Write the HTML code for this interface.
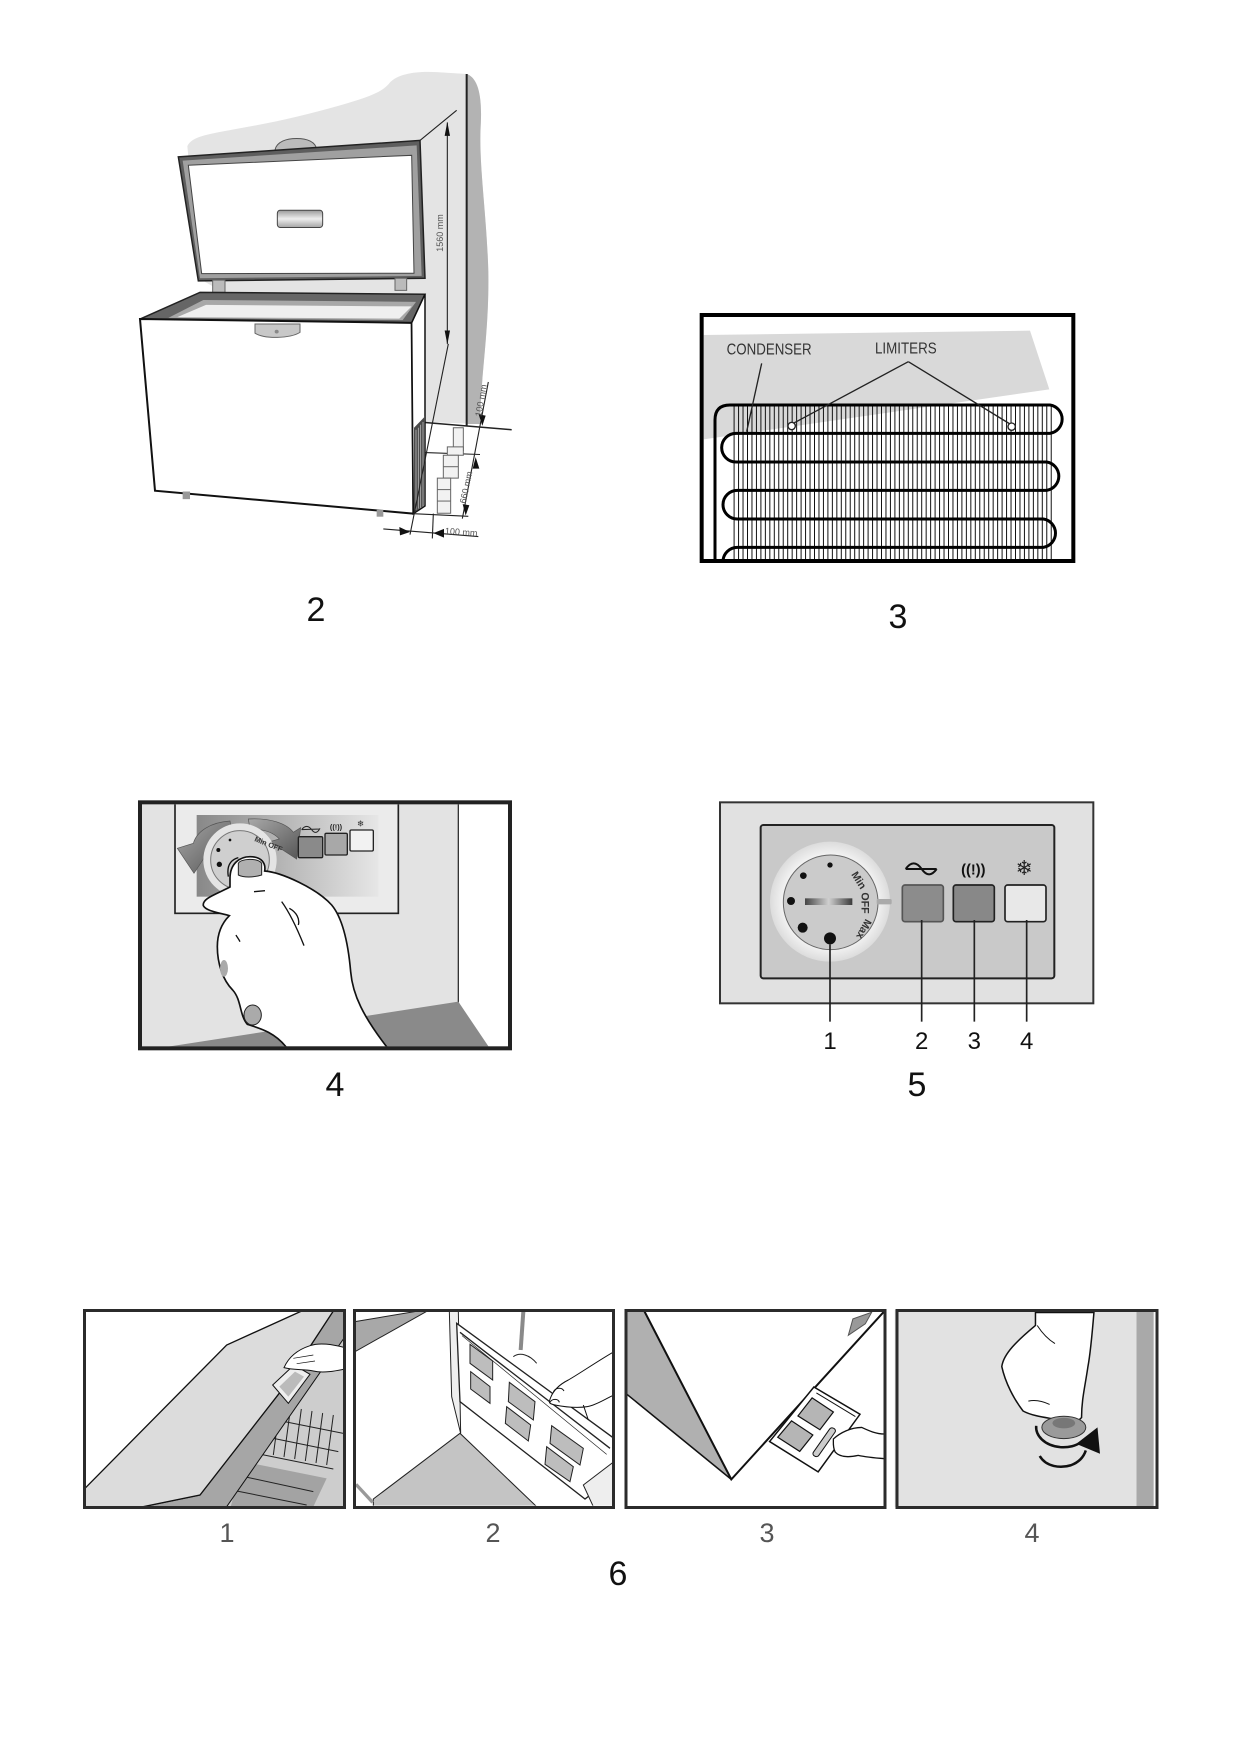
<!DOCTYPE html>
<html><head><meta charset="utf-8">
<style>
html,body{margin:0;padding:0;background:#fff;}
svg{display:block;}
text{font-family:"Liberation Sans",Arial,sans-serif;}
.ns *{vector-effect:non-scaling-stroke;}
</style></head><body>
<svg width="1240" height="1754" viewBox="0 0 1240 1754" xmlns="http://www.w3.org/2000/svg">
<defs>
  <linearGradient id="hgrad" x1="0" y1="0" x2="0" y2="1">
    <stop offset="0" stop-color="#9a9a9a"/><stop offset="0.5" stop-color="#eeeeee"/><stop offset="1" stop-color="#a5a5a5"/>
  </linearGradient>
  <linearGradient id="g4" x1="0" y1="0" x2="1" y2="0">
    <stop offset="0" stop-color="#888"/><stop offset="0.55" stop-color="#bdbdbd"/><stop offset="1" stop-color="#e6e6e6"/>
  </linearGradient>
  <linearGradient id="garr" x1="0" y1="0" x2="1" y2="1">
    <stop offset="0" stop-color="#a8a8a8"/><stop offset="1" stop-color="#555"/>
  </linearGradient>
  <linearGradient id="gbar" x1="0" y1="0" x2="1" y2="0">
    <stop offset="0" stop-color="#444"/><stop offset="0.5" stop-color="#d0d0d0"/><stop offset="1" stop-color="#3a3a3a"/>
  </linearGradient>
  <radialGradient id="ring" cx="0.5" cy="0.5" r="0.5">
    <stop offset="0.7" stop-color="#fbfbfb"/><stop offset="1" stop-color="#dcdcdc"/>
  </radialGradient>
  <pattern id="wires" patternUnits="userSpaceOnUse" width="13.4" height="1000">
    <rect x="0" y="0" width="3" height="1000" fill="#111"/>
  </pattern>
  <clipPath id="c3"><rect x="71" y="51" width="1103" height="726"/></clipPath>
  <clipPath id="c4"><rect x="36" y="28" width="1098" height="726"/></clipPath>
  <clipPath id="c61"><rect x="15" y="18" width="777" height="587"/></clipPath>
  <clipPath id="c62"><rect x="15" y="18" width="772" height="584"/></clipPath>
</defs>

<!-- ================= FIG 2 : freezer ================= -->
<g class="ns" transform="translate(100,50) scale(0.33333,0.3816)">
  <path d="M262,252 C275,225 330,220 420,205 C520,190 620,170 720,145 C800,125 850,110 870,85 C895,62 950,55 1010,58 L1100,63 C1130,72 1148,110 1142,200 C1136,300 1160,430 1165,580 C1168,740 1142,850 1140,980 L975,975 L975,640 L380,640 L300,600 Z" fill="#e4e4e4"/>
  <path d="M1100,63 C1130,72 1148,110 1142,200 C1136,300 1160,430 1165,580 C1168,740 1142,850 1140,980 L1100,980 Z" fill="#b3b3b3"/>
  <line x1="1100" y1="63" x2="1100" y2="985" stroke="#222" stroke-width="2"/>
  <line x1="975" y1="976" x2="1235" y2="995" stroke="#222" stroke-width="1.5"/>

  <!-- lid -->
  <path d="M525,262 C530,240 560,232 590,232 C620,232 648,240 650,262 Z" fill="#bbb" stroke="#555" stroke-width="1"/>
  <polygon points="235,280 960,237 975,598 295,605" fill="#5e5e5e" stroke="#222" stroke-width="1.5"/>
  <polygon points="248,290 950,250 965,592 300,598" fill="#a0a0a0"/>
  <polygon points="265,302 935,276 942,585 305,586" fill="#fff" stroke="#444" stroke-width="1"/>
  <rect x="532" y="420" width="136" height="45" rx="8" fill="url(#hgrad)" stroke="#444" stroke-width="1"/>
  <rect x="338" y="603" width="37" height="32" fill="#bbb" stroke="#666" stroke-width="1"/>
  <rect x="885" y="598" width="35" height="32" fill="#bbb" stroke="#666" stroke-width="1"/>

  <!-- body -->
  <polygon points="120,705 300,635 975,640 935,715" fill="#666" stroke="#222" stroke-width="1.5"/>
  <polygon points="205,702 310,655 948,660 908,708" fill="#a8a8a8"/>
  <polygon points="232,700 318,668 935,672 898,704" fill="#efefef"/>
  <polygon points="120,705 935,715 940,1215 165,1155" fill="#fff" stroke="#111" stroke-width="2"/>
  <polygon points="935,715 975,640 975,1195 940,1215" fill="#fff" stroke="#111" stroke-width="1.5"/>
  <polygon points="942,990 975,960 975,1192 942,1212" fill="#4a4a4a"/>
  <path d="M948,995 L948,1205 M955,990 L955,1202 M962,982 L962,1200 M969,975 L969,1196" stroke="#bbb" stroke-width="0.8"/>
  <path d="M465,718 L600,718 L600,740 C570,756 495,758 465,742 Z" fill="#c8c8c8" stroke="#666" stroke-width="1"/>
  <ellipse cx="530" cy="738" rx="6" ry="5" fill="#888"/>
  <rect x="248" y="1157" width="22" height="20" fill="#999"/>
  <rect x="830" y="1205" width="20" height="18" fill="#999"/>

  <!-- dimensions -->
  <g stroke="#222" stroke-width="1.1" fill="none">
    <line x1="960" y1="237" x2="1070" y2="158"/>
    <line x1="1042" y1="190" x2="1042" y2="770"/>
    <line x1="1045" y1="770" x2="930" y2="1270"/>
    <line x1="1165" y1="870" x2="1087" y2="1228"/>
    <line x1="975" y1="1055" x2="1140" y2="1060"/>
    <line x1="940" y1="1215" x2="1105" y2="1222"/>
    <line x1="850" y1="1255" x2="1135" y2="1275"/>
    <line x1="1000" y1="1215" x2="997" y2="1280"/>
  </g>
  <g fill="#111">
    <polygon points="1042,188 1034,225 1050,225"/>
    <polygon points="1042,772 1034,735 1050,735"/>
    <polygon points="1147,985 1136,955 1157,958"/>
    <polygon points="1127,1067 1118,1097 1138,1097"/>
    <polygon points="1097,1220 1088,1190 1108,1193"/>
    <polygon points="930,1263 898,1250 900,1272"/>
    <polygon points="1000,1266 1032,1255 1032,1278"/>
  </g>
  <g fill="#f2f2f2" stroke="#666" stroke-width="1">
    <rect x="1060" y="990" width="30" height="60"/>
    <rect x="1042" y="1040" width="48" height="22"/>
    <rect x="1030" y="1062" width="45" height="60"/>
    <rect x="1012" y="1122" width="40" height="92"/>
    <line x1="1012" y1="1152" x2="1052" y2="1152"/>
    <line x1="1012" y1="1182" x2="1052" y2="1182"/>
    <line x1="1030" y1="1092" x2="1075" y2="1092"/>
  </g>
</g>
<text transform="translate(443,233) rotate(-90)" text-anchor="middle" font-size="9" fill="#555">1560 mm</text>
<text transform="translate(484,401) rotate(-80)" text-anchor="middle" font-size="9" fill="#555">100 mm</text>
<text transform="translate(469,488) rotate(-78)" text-anchor="middle" font-size="9" fill="#555">660 mm</text>
<text transform="translate(461,535) rotate(4)" text-anchor="middle" font-size="9" fill="#555">100 mm</text>
<text x="316" y="621" text-anchor="middle" font-size="34" fill="#111">2</text>

<!-- ================= FIG 3 : condenser ================= -->
<g transform="translate(680,300) scale(0.33333)">
  <rect x="65" y="45" width="1115" height="738" fill="#fff"/>
  <g clip-path="url(#c3)">
    <polygon points="71,105 1050,92 1108,268 71,418" fill="#d9d9d9"/>
    <rect x="158" y="312" width="958" height="475" fill="url(#wires)"/>
    <path d="M105,790 L105,360 Q105,315 150,315 L1110,315 A43,43 0 0 1 1110,400 L168,400 A43,43 0 0 0 168,486 L1100,486 A43,43 0 0 1 1100,571 L172,571 A43,43 0 0 0 172,657 L1090,657 A43,43 0 0 1 1090,742 L172,742 A43,43 0 0 0 129,785" fill="none" stroke="#000" stroke-width="9"/>
    <g stroke="#222" stroke-width="4" fill="none">
      <line x1="245" y1="190" x2="200" y2="395"/>
      <line x1="685" y1="185" x2="340" y2="370"/>
      <line x1="685" y1="185" x2="990" y2="372"/>
    </g>
    <circle cx="335" cy="378" r="11" fill="#fff" stroke="#222" stroke-width="4"/>
    <circle cx="995" cy="380" r="11" fill="#fff" stroke="#222" stroke-width="4"/>
    <text x="140" y="163" font-size="46" fill="#333" textLength="255" lengthAdjust="spacingAndGlyphs">CONDENSER</text>
    <text x="585" y="160" font-size="46" fill="#333" textLength="185" lengthAdjust="spacingAndGlyphs">LIMITERS</text>
  </g>
  <rect x="65" y="45" width="1115" height="738" fill="none" stroke="#000" stroke-width="12"/>
</g>
<text x="898" y="628" text-anchor="middle" font-size="34" fill="#111">3</text>

<!-- ================= FIG 4 : hand on dial ================= -->
<g transform="translate(130,795) scale(0.33333)">
  <rect x="30" y="22" width="1110" height="738" fill="#e3e3e3"/>
  <g clip-path="url(#c4)">
    <rect x="985" y="22" width="155" height="740" fill="#fff"/>
    <line x1="985" y1="22" x2="985" y2="622" stroke="#333" stroke-width="4"/>
    <polygon points="95,758 985,620 1078,758" fill="#8a8a8a"/>
    <rect x="135" y="20" width="670" height="335" fill="#ebebeb" stroke="#222" stroke-width="5"/>
    <rect x="200" y="60" width="545" height="245" fill="url(#g4)"/>
    <path d="M300,78 C240,82 200,110 190,145 L142,160 L192,235 L248,150 L232,150 C245,125 270,110 305,108 Z" fill="url(#garr)" stroke="#555" stroke-width="2"/>
    <path d="M355,72 C420,68 470,85 490,112 L512,98 L500,192 L420,140 L448,132 C430,112 400,102 360,102 Z" fill="url(#garr)" stroke="#555" stroke-width="2"/>
    <circle cx="330" cy="195" r="110" fill="#e4e4e4"/>
    <circle cx="330" cy="195" r="88" fill="#cfcfcf" stroke="#777" stroke-width="3"/>
    <circle cx="300" cy="135" r="4" fill="#111"/>
    <circle cx="265" cy="165" r="6" fill="#111"/>
    <circle cx="268" cy="208" r="8" fill="#111"/>
    <text transform="translate(372,138) rotate(22)" font-size="22" font-weight="bold" fill="#333">Min OFF</text>
    <rect x="505" y="125" width="73" height="63" rx="4" fill="#8a8a8a" stroke="#222" stroke-width="4"/>
    <rect x="585" y="115" width="67" height="65" rx="4" fill="#a8a8a8" stroke="#222" stroke-width="4"/>
    <rect x="660" y="105" width="70" height="63" rx="4" fill="#f2f2f2" stroke="#222" stroke-width="4"/>
    <path d="M515,104 Q530,84 545,104 Q558,122 570,100 M515,104 L570,102" fill="none" stroke="#222" stroke-width="3"/>
    <text x="618" y="104" text-anchor="middle" font-size="22" font-weight="bold" fill="#222">((!))</text>
    <text x="692" y="94" text-anchor="middle" font-size="26" fill="#333">❄</text>
    <!-- hand -->
    <path d="M300,250 C300,205 330,185 360,185 C395,185 408,205 404,228 C455,232 560,280 605,330 C640,372 655,450 662,530 C668,600 700,665 772,758 L470,758 C435,712 390,700 352,688 C328,660 335,615 308,585 C278,555 262,505 262,455 C262,415 275,385 298,362 C262,352 228,348 220,332 C216,310 258,298 300,276 Z" fill="#fff" stroke="#111" stroke-width="5"/>
    <path d="M325,205 C332,190 385,188 395,205 L395,240 C370,248 340,248 325,240 Z" fill="#b0b0b0" stroke="#222" stroke-width="3"/>
    <ellipse cx="368" cy="660" rx="26" ry="30" fill="#aaa" stroke="#222" stroke-width="3"/>
    <ellipse cx="282" cy="520" rx="12" ry="25" fill="#aaa"/>
    <path d="M372,290 L405,287 M455,320 C478,352 498,392 522,452 M478,340 C500,352 510,372 505,390 M330,440 C325,430 320,425 318,420 M295,245 C290,215 300,195 325,188" fill="none" stroke="#111" stroke-width="4"/>
  </g>
  <rect x="30" y="22" width="1110" height="738" fill="none" stroke="#222" stroke-width="12"/>
</g>
<text x="335" y="1096" text-anchor="middle" font-size="34" fill="#111">4</text>

<!-- ================= FIG 5 : control panel ================= -->
<g transform="translate(715,795) scale(0.33333)">
  <rect x="15" y="22" width="1120" height="603" fill="#e1e1e1" stroke="#333" stroke-width="6"/>
  <rect x="137" y="90" width="881" height="460" rx="8" fill="#c9c9c9" stroke="#222" stroke-width="6"/>
  <circle cx="345" cy="320" r="180" fill="url(#ring)"/>
  <circle cx="347" cy="322" r="142" fill="#cbcbcb" stroke="#666" stroke-width="3"/>
  <rect x="485" y="312" width="45" height="16" rx="4" fill="#aaa"/>
  <circle cx="345" cy="210" r="8" fill="#111"/>
  <circle cx="265" cy="242" r="10" fill="#111"/>
  <circle cx="228" cy="318" r="12" fill="#111"/>
  <circle cx="263" cy="398" r="15" fill="#111"/>
  <circle cx="345" cy="430" r="18" fill="#111"/>
  <rect x="270" y="310" width="142" height="20" fill="url(#gbar)"/>
  <text transform="translate(408,238) rotate(58)" font-size="32" font-weight="bold" fill="#333">Min</text>
  <text transform="translate(440,292) rotate(90)" font-size="32" font-weight="bold" fill="#333">OFF</text>
  <text transform="translate(452,370) rotate(118)" font-size="32" font-weight="bold" fill="#333">Max</text>
  <rect x="562" y="270" width="123" height="110" rx="8" fill="#8c8c8c" stroke="#555" stroke-width="5"/>
  <rect x="715" y="270" width="123" height="110" rx="8" fill="#888" stroke="#222" stroke-width="5"/>
  <rect x="870" y="270" width="123" height="110" rx="8" fill="#e8e8e8" stroke="#222" stroke-width="5"/>
  <path d="M572,222 Q596,188 620,222 Q642,254 665,222 M572,222 L665,222" fill="none" stroke="#111" stroke-width="6"/>
  <text x="775" y="238" text-anchor="middle" font-size="44" font-weight="bold" fill="#111">((!))</text>
  <text x="928" y="240" text-anchor="middle" font-size="62" fill="#222">❄</text>
  <g stroke="#222" stroke-width="5">
    <line x1="345" y1="448" x2="345" y2="680"/>
    <line x1="620" y1="375" x2="620" y2="680"/>
    <line x1="778" y1="375" x2="778" y2="680"/>
    <line x1="935" y1="375" x2="935" y2="680"/>
  </g>
  <g font-size="72" text-anchor="middle" fill="#111">
    <text x="345" y="762">1</text>
    <text x="620" y="762">2</text>
    <text x="778" y="762">3</text>
    <text x="935" y="762">4</text>
  </g>
</g>
<text x="917" y="1096" text-anchor="middle" font-size="34" fill="#111">5</text>

<!-- ================= FIG 6 ================= -->
<!-- 6-1 -->
<g transform="translate(80,1305) scale(0.33333)">
  <rect x="12" y="15" width="783" height="593" fill="#fff"/>
  <g clip-path="url(#c61)">
    <polygon points="440,605 795,95 795,605" fill="#cdcdcd"/>
    <polygon points="490,470 740,520 700,605 452,605" fill="#a3a3a3"/>
    <g stroke="#222" stroke-width="3" fill="none">
      <line x1="540" y1="392" x2="775" y2="440"/>
      <line x1="528" y1="445" x2="760" y2="492"/>
      <line x1="565" y1="340" x2="790" y2="385"/>
      <line x1="600" y1="300" x2="580" y2="450"/>
      <line x1="632" y1="306" x2="612" y2="456"/>
      <line x1="664" y1="312" x2="644" y2="462"/>
      <line x1="696" y1="318" x2="676" y2="468"/>
      <line x1="728" y1="324" x2="708" y2="474"/>
      <line x1="760" y1="330" x2="740" y2="480"/>
      <line x1="470" y1="510" x2="700" y2="560"/>
      <line x1="455" y1="555" x2="680" y2="600"/>
    </g>
    <polygon points="600,262 760,18 795,18 795,95 440,605 190,605 360,570" fill="#a6a6a6" stroke="#111" stroke-width="3"/>
    <polygon points="15,550 440,120 665,18 760,18 600,262 360,570 190,605 15,605" fill="#dcdcdc" stroke="#111" stroke-width="4"/>
    <polygon points="578,240 642,180 690,208 625,295" fill="#eee" stroke="#111" stroke-width="3"/>
    <polygon points="598,245 645,200 672,215 625,275" fill="#bbb"/>
    <path d="M612,188 C625,158 650,135 690,122 C720,112 755,118 795,128 L795,192 C765,198 730,205 700,198 C670,192 640,196 612,188 Z" fill="#fff" stroke="#111" stroke-width="3"/>
    <path d="M640,160 L700,150 M650,176 L705,168" stroke="#111" stroke-width="2" fill="none"/>
  </g>
</g>
<!-- 6-2 -->
<g transform="translate(350,1305) scale(0.33333)">
  <rect x="12" y="15" width="778" height="590" fill="#fff"/>
  <g clip-path="url(#c62)">
    <polygon points="15,50 205,18 232,18 15,140" fill="#a8a8a8" stroke="#222" stroke-width="3"/>
    <polygon points="298,18 325,18 332,385 305,275" fill="#eee" stroke="#222" stroke-width="3"/>
    <polygon points="70,605 70,582 330,385 560,605" fill="#c4c4c4" stroke="#222" stroke-width="3"/>
    <line x1="18" y1="538" x2="68" y2="592" stroke="#999" stroke-width="10"/>
    <polygon points="320,55 792,400 792,515 705,582 330,290" fill="#fff" stroke="#222" stroke-width="4"/>
    <line x1="330" y1="82" x2="780" y2="430" stroke="#222" stroke-width="4"/>
    <line x1="336" y1="92" x2="770" y2="448" stroke="#222" stroke-width="2"/>
    <g fill="#bdbdbd" stroke="#222" stroke-width="3">
      <polygon points="360,118 428,168 428,225 360,175"/>
      <polygon points="362,200 420,245 420,295 362,252"/>
      <polygon points="478,232 555,290 550,345 475,290"/>
      <polygon points="470,305 542,360 535,408 466,355"/>
      <polygon points="605,362 700,430 690,480 600,415"/>
      <polygon points="590,425 670,485 660,530 585,478"/>
    </g>
    <line x1="520" y1="20" x2="512" y2="135" stroke="#8a8a8a" stroke-width="12"/>
    <path d="M490,155 C510,140 540,150 560,175" fill="none" stroke="#222" stroke-width="3"/>
    <polygon points="700,540 792,470 792,605 730,605" fill="#eee" stroke="#222" stroke-width="3"/>
    <path d="M598,290 C605,260 625,240 655,225 C690,205 740,170 792,140 L792,270 C765,282 740,300 712,305 C680,310 640,305 615,300 C605,298 598,296 598,290 Z" fill="#fff" stroke="#111" stroke-width="3"/>
    <path d="M610,262 C615,248 635,245 642,258 M600,292 C606,280 625,280 628,292 M700,300 L715,345" fill="none" stroke="#111" stroke-width="3"/>
  </g>
</g>
<!-- 6-3 and 6-4 -->
<g class="ns" transform="translate(620.7,1300.8) scale(0.3545,0.3289)">
  <rect x="15" y="28" width="732" height="599" fill="#fff"/>
  <polygon points="15,28 65,28 312,543 15,282" fill="#b0b0b0"/>
  <polyline points="65,28 312,543 745,30" fill="none" stroke="#111" stroke-width="2"/>
  <line x1="15" y1="282" x2="312" y2="543" stroke="#111" stroke-width="1.5"/>
  <polygon points="642,105 655,55 708,35 690,70" fill="#999" stroke="#555" stroke-width="1"/>
  <polygon points="545,262 675,345 557,520 420,428" fill="#fff" stroke="#111" stroke-width="1.5"/>
  <line x1="552" y1="280" x2="662" y2="352" stroke="#111" stroke-width="1"/>
  <polygon points="540,295 600,338 562,392 500,350" fill="#b5b5b5" stroke="#111" stroke-width="1.2"/>
  <polygon points="482,365 542,408 505,458 443,415" fill="#b5b5b5" stroke="#111" stroke-width="1.2"/>
  <rect x="565" y="380" width="18" height="100" rx="8" transform="rotate(33 574 430)" fill="#ccc" stroke="#111" stroke-width="1"/>
  <path d="M600,420 C620,400 650,385 680,385 C700,395 720,405 745,405 L745,480 C720,478 690,475 670,470 C650,475 620,478 605,460 C598,445 600,430 600,420 Z" fill="#fff" stroke="#111" stroke-width="1.3"/>

  <rect x="773" y="28" width="732" height="599" fill="#e2e2e2"/>
  <rect x="1455" y="28" width="48" height="599" fill="#a9a9a9"/>
  <path d="M1170,35 L1335,35 C1330,100 1325,160 1318,200 C1310,260 1300,300 1300,355 C1280,380 1240,375 1225,360 C1200,355 1160,350 1135,335 C1110,300 1085,250 1075,200 C1080,160 1120,120 1170,75 Z" fill="#fff" stroke="#111" stroke-width="1.5"/>
  <line x1="1170" y1="34" x2="1335" y2="34" stroke="#111" stroke-width="2.5"/>
  <path d="M1175,75 C1190,100 1210,120 1225,130 M1150,305 C1170,300 1190,305 1210,315" fill="none" stroke="#111" stroke-width="1"/>
  <ellipse cx="1250" cy="385" rx="62" ry="34" fill="#9a9a9a" stroke="#333" stroke-width="1"/>
  <ellipse cx="1250" cy="372" rx="32" ry="16" fill="#777"/>
  <path d="M1182,472 C1200,505 1240,510 1270,500 C1290,492 1305,478 1312,455" fill="none" stroke="#111" stroke-width="2.5"/>
  <path d="M1172,380 C1170,410 1195,440 1240,445 C1265,447 1285,440 1295,432" fill="none" stroke="#111" stroke-width="2.5"/>
  <polygon points="1285,435 1345,385 1352,465" fill="#111"/>
</g>

<!-- panel-6 frames -->
<g fill="none" stroke="#2b2b2b" stroke-width="3">
  <rect x="84.5" y="1310.5" width="260" height="197"/>
  <rect x="354.5" y="1310.5" width="259" height="197"/>
  <rect x="626" y="1310.5" width="259" height="197"/>
  <rect x="897" y="1310.5" width="260" height="197"/>
</g>
<g font-size="27" text-anchor="middle" fill="#555">
  <text x="227" y="1542">1</text>
  <text x="493" y="1542">2</text>
  <text x="767" y="1542">3</text>
  <text x="1032" y="1542">4</text>
</g>
<text x="618" y="1585" text-anchor="middle" font-size="34" fill="#111">6</text>
</svg>
</body></html>
